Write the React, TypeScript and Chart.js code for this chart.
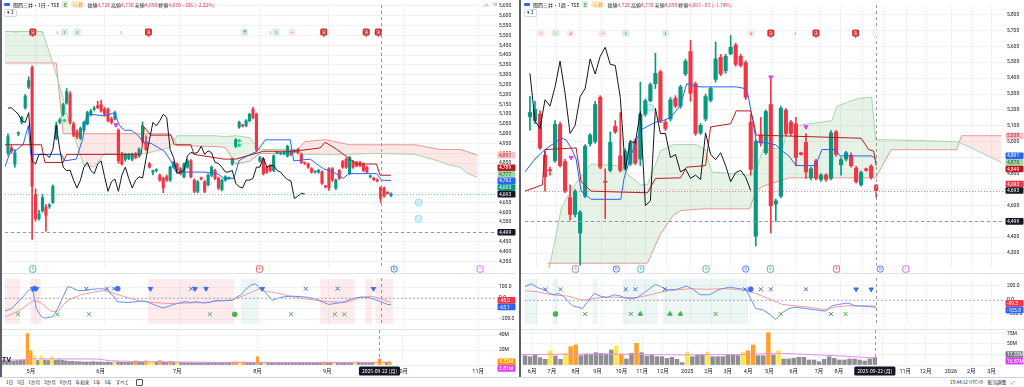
import React, { useEffect, useRef } from 'react';
import { Chart, registerables } from 'chart.js';

Chart.register(...registerables);

const FONT = 'Roboto, "Noto Sans CJK JP", sans-serif';
const JP = '"Noto Sans CJK JP", Roboto, sans-serif';
const TXT = '#131722';
const GRID = '#f1f2f6';
const UP = '#089981';
const DOWN = '#f23645';
const CLOUD_UP = 'rgba(67,160,71,0.13)';
const CLOUD_DN = 'rgba(244,67,54,0.12)';

// ================= LEFT : daily =================
// [open, high, low, close]
const leftCandles = [
  [4903, 5000, 4890, 4985], [4928, 4940, 4900, 4911], [4846, 4920, 4830, 4903], [5000, 5010, 4990, 5002], [5058, 5090, 5050, 5083],
  [5132, 5200, 5125, 5192], [5238, 5290, 5230, 5271], [5336, 5345, 4462, 4732], [4691, 4720, 4555, 4568], [4568, 4610, 4560, 4593],
  [4609, 4690, 4600, 4675], [4626, 4640, 4505, 4585], [4631, 4645, 4620, 4637], [4650, 4740, 4645, 4732], [4977, 5060, 4970, 5042],
  [5060, 5080, 5050, 5070], [5099, 5155, 5090, 5148], [5156, 5230, 5150, 5214], [5202, 5215, 5050, 5058], [5050, 5060, 4985, 4993],
  [5010, 5020, 4975, 4985], [4977, 5035, 4970, 5026], [5020, 5065, 5010, 5058], [5050, 5115, 5045, 5107], [5099, 5125, 5090, 5115],
  [5125, 5140, 5118, 5130], [5143, 5165, 5128, 5132], [5148, 5170, 5110, 5116], [5124, 5135, 5090, 5099], [5124, 5130, 5060, 5066],
  [5075, 5085, 5050, 5058], [5075, 5115, 5070, 5107], [5018, 5025, 4850, 4862], [4895, 4905, 4840, 4846], [4870, 4900, 4860, 4895],
  [4875, 4900, 4868, 4895], [4870, 4902, 4862, 4895], [4895, 4905, 4872, 4879], [4887, 4928, 4880, 4920], [4960, 5060, 4950, 5042],
  [4960, 4990, 4915, 4920], [4846, 4855, 4825, 4830], [4805, 4815, 4790, 4812], [4813, 4822, 4805, 4815], [4789, 4795, 4758, 4764],
  [4773, 4780, 4700, 4724], [4781, 4790, 4758, 4764], [4764, 4836, 4758, 4830], [4830, 4860, 4824, 4854], [4846, 4852, 4806, 4813],
  [4822, 4828, 4790, 4797], [4781, 4852, 4775, 4846], [4830, 4870, 4824, 4862], [4862, 4868, 4775, 4781], [4764, 4770, 4700, 4707],
  [4707, 4762, 4700, 4756], [4773, 4780, 4765, 4770], [4756, 4762, 4700, 4707], [4740, 4795, 4734, 4789], [4789, 4836, 4782, 4830],
  [4813, 4820, 4766, 4773], [4773, 4780, 4716, 4724], [4716, 4770, 4709, 4764], [4764, 4787, 4758, 4781], [4773, 4780, 4768, 4775],
  [4846, 4877, 4840, 4871], [4936, 4975, 4930, 4969], [5034, 5064, 5028, 5058], [5042, 5048, 5034, 5040], [5042, 5072, 5036, 5066],
  [5066, 5105, 5060, 5099], [5124, 5135, 5076, 5083], [5099, 5105, 4912, 4920], [4862, 4885, 4856, 4879], [4871, 4877, 4790, 4797],
  [4830, 4836, 4798, 4805], [4838, 4844, 4806, 4813], [4813, 4893, 4807, 4887], [4903, 4910, 4897, 4905], [4898, 4905, 4892, 4900],
  [4898, 4912, 4892, 4906], [4887, 4942, 4881, 4936], [4911, 4917, 4889, 4895], [4911, 4918, 4905, 4913], [4920, 4926, 4897, 4903],
  [4895, 4901, 4848, 4854], [4850, 4856, 4843, 4849], [4846, 4852, 4824, 4830], [4822, 4828, 4799, 4805], [4805, 4811, 4800, 4806],
  [4805, 4819, 4799, 4813], [4805, 4811, 4742, 4748], [4732, 4738, 4724, 4730], [4822, 4828, 4712, 4724], [4822, 4828, 4758, 4764],
  [4724, 4770, 4716, 4764], [4813, 4819, 4767, 4773], [4859, 4865, 4824, 4830], [4871, 4877, 4824, 4830], [4797, 4885, 4791, 4879],
  [4859, 4865, 4824, 4830], [4854, 4860, 4832, 4838], [4854, 4860, 4832, 4838], [4846, 4852, 4807, 4813], [4830, 4836, 4799, 4805],
  [4781, 4790, 4775, 4783], [4773, 4779, 4762, 4767], [4765, 4772, 4755, 4760], [4728, 4730, 4650, 4670], [4724, 4730, 4677, 4683],
  [4700, 4706, 4692, 4697], [4686, 4700, 4680, 4693],
];
const leftMonths = [[8, '5月'], [28, '6月'], [50, '7月'], [73, '8月'], [93, '9月'], [114.5, '10月'], [136.3, '11月']];
const leftTenkan = [[-0.9, 4830], [1.06, 4928], [2, 4911], [4.4, 4944], [5.9, 5042], [6.6, 4895], [15.5, 4895], [16.4, 4862], [19.8, 4871], [21.7, 4977], [22.7, 5083], [23.7, 5099], [28, 5091], [30.9, 5107], [32.3, 5042], [33.8, 5018], [35.7, 5018], [37.6, 4993], [39.5, 4952], [41.4, 4952], [45.3, 4911], [47.2, 4862], [48.7, 4805], [56.8, 4805], [60.7, 4797], [62.6, 4773], [65.5, 4773], [66.9, 4862], [68.4, 4879], [72.2, 4911], [74.6, 4969], [81.8, 4969], [82.8, 4862], [87.6, 4871], [89.5, 4846], [91.4, 4822], [94.3, 4805], [97.2, 4773], [98.7, 4797], [106.8, 4797], [108.3, 4764], [111, 4762]];
const leftKijun = [[-0.9, 4944], [9.7, 4944], [10.7, 4854], [16, 4854], [17, 4895], [38.6, 4895], [39.5, 5034], [41.4, 4993], [47.2, 4993], [48.2, 4944], [53, 4944], [53.9, 4895], [62.6, 4871], [66, 4871], [74.1, 4911], [82.8, 4911], [90.5, 4928], [91.9, 4957], [95.3, 4920], [99.1, 4871], [101, 4846], [106.8, 4846], [107.8, 4789], [111, 4789]];
const leftCloudX = [-0.9, 10, 13, 14, 16, 17, 22, 25, 28, 40, 47, 48, 49, 60, 63, 66, 70, 73, 83, 86, 92, 99, 106, 118, 125, 128, 131, 133, 136];
const leftSpanA = [5520, 5520, 5360, 5300, 5180, 5100, 4840, 4830, 4900, 4900, 4930, 4960, 4990, 4990, 4985, 4990, 4980, 4920, 4920, 4895, 4895, 4895, 4900, 4895, 4860, 4840, 4830, 4800, 4777];
const leftSpanB = [5360, 5360, 5360, 5360, 5000, 5000, 5000, 5000, 5000, 5000, 5000, 4970, 4940, 4935, 4930, 4846, 4860, 4900, 4900, 4960, 4970, 4944, 4944, 4944, 4920, 4920, 4920, 4910, 4891];
const leftPinkTri = [[31.3, 5045]];
const leftGreenDots = [[16.4, 5067], [67, 4964], [67, 4941]];
const leftCyanRings = [[119, 4650], [119, 4567]];
const leftVolume = [
  6.5, 5.5, 6, 5, 6, 6.5, 7, 42, 19, 12.4,
  6, 12, 6.7, 6, 11, 6.5, 7, 6.5, 5.5, 5,
  5, 4.5, 4.5, 4, 4, 4, 4.5, 4, 4, 3.5,
  4, 3.5, 5.6, 4, 3.5, 3.5, 3.5, 3.5, 5.5, 4,
  3.5, 5.5, 4, 4, 3.5, 6, 4, 3.5, 5, 3.5,
  4, 3.5, 3, 3, 3.2, 3, 3, 2.8, 3, 3,
  3.2, 3, 3, 2.8, 3, 3, 4, 4, 3.5, 4,
  3.5, 3.5, 3.5, 11, 3.5, 4, 3.2, 3, 3, 3.2,
  3, 3, 3, 3.2, 3, 3, 3, 3, 3, 3,
  3, 3, 4, 3, 3, 3.8, 3, 3, 3, 3,
  3, 3.5, 3.8, 3, 3, 3, 3.2, 3.5, 8, 4.5,
  3.5, 4.33,
];
const leftVolKind = 'gggggggooy' + 'gyggyggggg' + 'gggggggggg' + 'ggygggggog' + 'goyygoggog' + 'yggggggggg' + 'ggggggooyo' + 'gggogygggg' + 'gggggggggg' + 'ggoggygggg' + 'gygggggyoy' + 'go';
const leftVolMA = [[-0.9, 6.5], [7, 6.8], [9, 8.2], [27, 8], [31, 5.5], [40, 4.5], [60, 3.6], [90, 3.4], [111, 3.81]];
const leftCci = [[-0.9, -126], [1.05, -100], [3.4, -23], [6.3, 79], [7.3, 54], [8.2, -100], [9.7, -177], [10.6, -190], [13, -177], [14.4, -100], [15.9, 3], [17.3, 105], [18.7, 92], [20.2, 67], [22.1, 67], [24, 79], [26.9, 85], [28.8, 79], [29.7, 41], [30.7, 15], [31.6, -36], [34.5, -44], [37.4, -36], [39.3, -28], [41.2, -49], [43.1, -74], [45, -95], [46.9, -74], [48.9, -54], [51.3, -36], [52.7, -44], [54.6, -36], [56.5, -49], [58.4, -44], [60.3, -23], [62.2, -28], [65.1, -23], [66.1, 3], [67.5, 28], [68.9, 79], [70.4, 118], [71.8, 131], [72.8, 92], [73.7, 79], [76.6, -23], [79.5, 8], [82.3, 15], [86.1, 8], [89, -10], [92.9, -62], [95.7, -49], [97.6, -36], [99.5, -10], [102.4, 8], [104.3, 3], [106.2, -15], [108.1, -36], [110, -62], [111, -65.1]];
const leftSignal = [[-0.9, -177], [3, -126], [6.3, -49], [7.7, -23], [9.7, -49], [12.5, -126], [14.4, -126], [17.3, -23], [21.1, 28], [25, 54], [27.8, 67], [30.7, 41], [34.5, 3], [38.4, -31], [42.2, -44], [47, -54], [56.5, -44], [65.1, -18], [68.9, 28], [72.8, 85], [73.7, 67], [78.5, 41], [83.3, 3], [88.1, -18], [92.9, -36], [97.6, -44], [102.4, 3], [105.3, 15], [108.1, -10], [111, -45]];
const LEFT_OSC_TOP = 85;
const LEFT_OSC_BOT = -154;
const leftOscBlueX = [22.7, 28.7, 30.7, 53.1, 86.3, 95.5];
const leftOscBlueTri = [7.2, 8.3, 41.3, 54.2, 57.4, 73.7, 105.9];
const leftOscBlueDot = [7.7, 31.8];
const leftOscGreenX = [2.9, 14.3, 23.5, 58.5, 82, 94.7, 97.5];
const leftOscGreenDot = [65.7];
const leftOscBands = [[-1, 3, 'p'], [7, 9, 'p'], [41, 65, 'p'], [68, 72, 'g'], [91, 100, 'p'], [104, 105, 'p'], [107, 111, 'p']];
const leftTopMarks = [[2.2, 't', '—'], [7.2, 'r', '決'], [10, 't', '—'], [14.3, 't', '3'], [16.4, 'g', '1'], [20.1, 'g', '3'], [32.7, 't', '3'], [40.7, 'r', '決'], [68.6, 'g', '予'], [76, 't', '3'], [77.7, 'g', '1'], [82.3, 'p', '—'], [91.5, 'r', '決'], [103.8, 'r', '決'], [106.2, 't', '—'], [107.3, 'r', '決']];
const leftIcons = [[7.2, 's', 'S'], [72.9, 'e', 'E'], [111.9, 'd', 'D'], [136.8, 'i', 'I']];
const leftPriceBadges = [
  { v: 4891, t: '4,891', bg: '#f9c0c4', fg: '#c62828' },
  { v: 4789, t: '4,789', bg: '#b71c1c', fg: '#fff' },
  { v: 4777, t: '4,777', bg: '#a5d6a7', fg: '#1b5e20' },
  { v: 4762, t: '4,762', bg: '#2962ff', fg: '#fff' },
  { v: 4693, t: '4,693', bg: UP, fg: '#fff' },
  { v: 4693, t: '4,693', bg: '#131722', fg: '#fff', pin: true },
  { v: 4499, t: '4,499', bg: '#131722', fg: '#fff', pin: true },
];
const leftOscBadges = [{ v: -45, t: '-45.0', bg: '#f23645', fg: '#fff' }, { v: -65.1, t: '-65.1', bg: '#2962ff', fg: '#fff' }];
const leftVolBadges = [{ v: 4.33, t: '4.33M', bg: '#ff9800', fg: '#fff', pin: true }, { v: 3.81, t: '3.81M', bg: '#e040fb', fg: '#fff' }];

// ================= RIGHT : weekly =================
const rightCandles = [
  [5157, 5285, 5073, 5184], [5133, 5254, 5113, 5204], [5173, 5194, 4951, 4961], [4915, 4941, 4689, 4780], [4822, 4840, 4790, 4818],
  [4881, 5133, 4870, 5109], [5109, 5123, 4840, 4850], [4875, 4890, 4679, 4689], [4648, 4729, 4507, 4543], [4543, 4699, 4527, 4689],
  [4426, 4567, 4224, 4557], [4658, 4982, 4648, 4972], [4988, 5052, 4972, 5042], [5002, 5254, 4990, 5234], [5279, 5290, 4830, 4840],
  [4750, 4830, 4517, 4745], [4820, 5062, 4810, 4996], [5097, 5133, 5052, 5062], [4911, 5184, 4810, 4820], [4830, 4955, 4820, 4941],
  [4860, 5010, 4850, 4992], [5008, 5020, 4855, 4866], [4891, 5375, 4850, 5173], [5173, 5270, 5160, 5258], [5258, 5370, 5250, 5359],
  [5365, 5557, 5335, 5430], [5440, 5450, 5120, 5133], [5123, 5140, 5070, 5083], [5143, 5280, 5130, 5264], [5274, 5290, 5215, 5224],
  [5224, 5355, 5210, 5345], [5426, 5520, 5415, 5507], [5567, 5638, 5254, 5305], [5365, 5375, 5040, 5052], [5056, 5115, 5045, 5103],
  [5143, 5300, 5130, 5284], [5260, 5345, 5250, 5335], [5392, 5628, 5375, 5521], [5531, 5550, 5415, 5426], [5446, 5550, 5430, 5537],
  [5553, 5668, 5547, 5594], [5608, 5620, 5475, 5487], [5537, 5550, 5470, 5480], [5497, 5510, 5265, 5279], [5123, 5173, 4790, 4826],
  [4406, 5012, 4345, 5002], [5042, 5153, 4972, 4992], [4931, 5200, 4920, 5190], [5234, 5396, 4426, 4598], [4608, 4640, 4500, 4628],
  [4658, 5224, 4648, 5210], [5198, 5210, 5040, 5052], [5123, 5135, 5040, 5052], [5113, 5153, 4850, 4901], [4930, 4935, 4915, 4920],
  [4996, 5052, 4770, 4810], [4773, 4840, 4760, 4830], [4880, 4890, 4760, 4770], [4763, 4800, 4750, 4790], [4790, 4800, 4750, 4763],
  [4770, 5070, 4760, 5056], [5062, 5072, 4910, 4921], [4855, 4900, 4790, 4887], [4891, 4940, 4880, 4931], [4915, 4930, 4840, 4850],
  [4834, 4845, 4740, 4749], [4729, 4815, 4720, 4806], [4830, 4835, 4815, 4820], [4846, 4855, 4765, 4776], [4728, 4730, 4650, 4693],
];
const rightMonths = [[1.4, '6月'], [5.3, '7月'], [10, '8月'], [14.3, '9月'], [19, '10月'], [23.1, '11月'], [27.2, '12月'], [32, '2025'], [36.2, '2月'], [40, '3月'], [44, '4月'], [48.2, '5月'], [53, '6月'], [58, '7月'], [61.9, '8月'], [66.2, '9月'], [70.5, '10月'], [75, '11月'], [79, '12月'], [84, '2026'], [88, '2月'], [92, '3月']];
const rightTenkan = [[-1, 4810], [1, 4891], [3, 4951], [6.25, 5022], [7.2, 5012], [8.2, 4961], [9.2, 4891], [10.2, 4689], [12.2, 4638], [18.1, 4638], [18.75, 4769], [20.1, 4911], [22, 5073], [25, 5123], [26.6, 5133], [28, 5153], [29.9, 5224], [31.25, 5365], [33.9, 5345], [41.1, 5345], [42.8, 5335], [43.4, 5305], [44.4, 5133], [45.1, 5002], [49, 4981], [50.3, 4941], [51.6, 4911], [53, 4850], [56.9, 4850], [58.2, 4951], [60.9, 4951], [61.8, 4911], [68.1, 4911], [69, 4891]];
const rightKijun = [[-1, 4689], [2.5, 4729], [3, 4951], [9.2, 4961], [10.2, 4749], [12.2, 4689], [23.4, 4679], [25, 4769], [30, 4773], [31.2, 4840], [35, 4850], [36, 5093], [40, 5113], [41.1, 5194], [44, 5194], [44.5, 5133], [45.1, 5042], [66, 5022], [67.5, 4951], [68.5, 4941], [69, 4849]];
const rightCloudX = [3.5, 6.3, 8.9, 12.2, 17.4, 22, 23.4, 26, 28.6, 30, 33.2, 34.9, 36.2, 43.8, 45, 46.4, 50.3, 51.6, 53, 60.2, 61.2, 65.5, 68.1, 68.9, 72, 85, 86, 90, 94];
const rightSpanA = [4150, 4588, 4729, 4860, 4850, 4729, 4729, 4941, 4982, 4982, 4982, 4951, 4810, 4790, 4810, 4951, 4961, 5093, 5100, 5133, 5224, 5274, 5279, 5012, 5012, 5000, 4990, 4930, 4870];
const rightSpanB = [4236, 4236, 4236, 4236, 4236, 4236, 4236, 4420, 4540, 4567, 4575, 4578, 4578, 4578, 4689, 4720, 4760, 4773, 4773, 4773, 4773, 4773, 4773, 4773, 4950, 4950, 5038, 5038, 5038];
const rightPinkTri = [[8.2, 4901], [48, 5406], [55, 5093]];
const rightCyanRings = [[24, 5214]];
const rightVolume = [
  22.2, 19.8, 23.8, 17.4, 13.5, 33.3, 21.4, 13.5, 27.8, 43.6,
  47.6, 22.2, 26.2, 25.4, 29.3, 27.8, 26.2, 35.7, 45.2, 26.2,
  14.3, 27.8, 51.5, 29.3, 21.4, 23.8, 19.8, 19.8, 15.9, 18.2,
  13.5, 5.6, 30.9, 19.8, 23.8, 25.4, 30.9, 19.8, 19.8, 19.8,
  23.8, 23.8, 22.2, 30.1, 34.1, 47.6, 22.2, 22.2, 76.9, 23.8,
  34.1, 14.3, 14.3, 15.9, 18.2, 18.2, 11.9, 11.9, 7.9, 13.5,
  19.8, 15.9, 11.9, 11.9, 14.3, 14.3, 11.9, 9.5, 14.3, 17.35,
];
const rightVolKind = 'gggggyggyo' + 'ogggggggyo' + 'ggoggggggg' + 'ggygggyggg' + 'gggyooggog' + 'yggggggggg' + 'gggggggggg';
const rightVolMA = [[-1, 25], [15, 26], [30, 24], [43, 25], [50, 28], [56, 25], [63, 21], [69, 16.87]];
const rightCci = [[-1, 190], [0.3, 229], [1.6, 171], [3, 143], [3.9, 92], [4.9, 73], [5.6, 92], [6.6, 53], [7.6, -26], [8.5, -85], [9.5, -104], [10.5, -124], [11.5, -26], [12.8, 92], [14.1, 53], [15.4, 33], [16.8, 73], [18.1, 53], [18.7, 33], [20.1, 14], [21.4, 33], [23.3, 131], [25, 222], [26, 190], [27.3, 143], [29.3, 151], [31.2, 198], [32.5, 151], [33.9, 73], [35.8, 73], [37.8, 151], [39.8, 182], [41.7, 159], [43.1, 151], [44, 14], [45, -124], [46.4, -143], [47.7, -202], [49, -280], [50.3, -182], [51.6, -124], [52.9, -104], [54.9, -124], [56.9, -143], [58.8, -163], [60.2, -85], [61.5, -65], [63.4, -45], [64.8, -85], [66.7, -92], [69, -105.8]];
const rightSignal = [[-1, 131], [1.6, 112], [4.3, 73], [7.6, 53], [9.5, 14], [10.8, -6], [12.2, 14], [14.1, 33], [16.1, 41], [18.7, 33], [21.4, 33], [24, 73], [26.6, 120], [29.3, 143], [31.9, 159], [35.2, 151], [38.5, 159], [41.1, 151], [43.1, 131], [45, 92], [47, 33], [49, -26], [50.3, -65], [52.9, -85], [55.6, -104], [58.8, -143], [60.8, -104], [63.4, -85], [66.7, -85], [69, -89.3]];
const RIGHT_OSC_TOP = 151;
const RIGHT_OSC_BOT = -202;
const rightOscBlueX = [3.1, 6.1, 19.1, 21, 26.9, 42.9, 46, 48, 55];
const rightOscBlueDot = [44];
const rightOscBlueTri = [65, 68];
const rightOscGreenDot = [5.1];
const rightOscGreenX = [11, 20.1, 37, 50, 60, 62.9];
const rightOscGreenTri = [22, 27.9, 30];
const rightOscBands = [[-1, 1, 'g'], [5, 5, 'g'], [13, 13, 'g'], [19, 25, 'g'], [27, 43, 'g']];
const rightTopMarks = [[2.2, 'p', '—'], [5.1, 'g', '—'], [8.1, 'p', '3'], [13.8, 't', '+'], [14.5, 'p', '—'], [19.1, 'g', '1'], [27, 'g', '1'], [44, 'p', '3'], [48, 'r', '決'], [52.9, 't', '2'], [57, 'r', '決'], [64.9, 'r', '決'], [68.8, 'gf', '']];
const rightIcons = [[9.1, 'n', 'S'], [17.2, 'd', 'D'], [22.1, 's', 'S'], [35.1, 's', 'S'], [43, 'd', 'D'], [47.9, 's', 'S'], [61.1, 'e', 'E'], [69.8, 'd', 'D'], [74.9, 'i', 'I']];
const rightPriceBadges = [
  { v: 5038, t: '5,038', bg: '#f9c0c4', fg: '#c62828' },
  { v: 4891, t: '4,891', bg: '#2962ff', fg: '#fff' },
  { v: 4870, t: '4,870', bg: '#a5d6a7', fg: '#1b5e20' },
  { v: 4849, t: '4,849', bg: '#b71c1c', fg: '#fff' },
  { v: 4693, t: '4,693', bg: DOWN, fg: '#fff' },
  { v: 4693, t: '4,693', bg: '#131722', fg: '#fff', pin: true },
  { v: 4499, t: '4,499', bg: '#131722', fg: '#fff', pin: true },
];
const rightOscBadges = [{ v: -89.3, t: '-89.3', bg: '#f23645', fg: '#fff' }, { v: -105.8, t: '-105.8', bg: '#2962ff', fg: '#fff' }];
const rightVolBadges = [{ v: 17.35, t: '17.35M', bg: '#787b86', fg: '#fff' }, { v: 16.87, t: '16.87M', bg: '#e040fb', fg: '#fff' }];

// ================= helpers =================
const BAND = { p: 'rgba(242,54,69,0.10)', g: 'rgba(8,153,129,0.08)' };
const MARK = {
  r: { bg: '#d32f2f', fg: '#fff' },
  g: { bg: '#d8f0da', fg: '#2e7d32' },
  p: { bg: '#fde4e6', fg: '#c62828' },
  t: { bg: '', fg: '#787b86' },
  gf: { bg: '#eef8ef', fg: '#a5d6a7' },
};
const ICON = { s: '#26a69a', e: '#f23645', d: '#2962ff', i: '#e040fb', n: '#787b86' };
const VOLC = { g: '#8e8e93', o: '#ffa028', y: '#fde84a' };

const pts = (a: any[]) => a.map((p: any) => ({ x: p[0], y: p[1] }));
const zip = (xs: number[], ys: number[]) => xs.map((x, i) => [x, ys[i]]);
const row = (xs: number[], v: number) => xs.map((x) => [x, v]);

function line(data: any[], color: string, order: number, extra: any = {}) {
  return { type: 'line', data: pts(data), borderColor: color, borderWidth: 1, pointRadius: 0, tension: 0, fill: false, order, ...extra };
}
function marks(data: any[], style: string, color: string, r: number, rot = 0, bg?: string) {
  return {
    type: 'line', data: pts(data), showLine: false, pointStyle: style, pointRadius: r, pointRotation: rot,
    pointBorderColor: color, pointBackgroundColor: bg || color, pointBorderWidth: 1, order: 0,
  };
}
function candleSets(c: number[][], w: number) {
  const cols = c.map((d) => (d[3] >= d[0] ? UP : DOWN));
  return [
    { type: 'bar', data: c.map((d, i) => ({ x: i, y: [d[2], d[1]] })), backgroundColor: cols, barThickness: 1, grouped: false, order: 4 },
    { type: 'bar', data: c.map((d, i) => ({ x: i, y: [d[0], d[3]] })), backgroundColor: cols, barThickness: w, grouped: false, minBarLength: 1, order: 3 },
  ];
}

const xScale = (min: number, max: number, months: any[], show: boolean) => ({
  type: 'linear', min, max, offset: false,
  afterBuildTicks: (s: any) => { s.ticks = months.map((m: any) => ({ value: m[0] })); },
  afterFit: (s: any) => { s.height = show ? 12 : 0; s.paddingLeft = 0; s.paddingRight = 0; },
  grid: { color: GRID, drawTicks: false, offset: false },
  border: { display: false },
  ticks: {
    display: show, autoSkip: false, maxRotation: 0, padding: 3, color: TXT, font: { size: 5.5, family: FONT },
    callback: (v: any) => { const m = months.find((q: any) => q[0] === v); return m ? m[1] : ''; },
  },
});
const yScale = (min: number, max: number, step: number, fmt: any) => ({
  type: 'linear', position: 'right', min, max,
  afterFit: (s: any) => { s.width = 19; s.paddingTop = 0; s.paddingBottom = 0; },
  grid: { color: GRID, drawTicks: false },
  border: { display: false },
  ticks: { stepSize: step, includeBounds: false, autoSkip: false, padding: 2, crossAlign: 'near', color: TXT, font: { size: 5, family: FONT }, callback: fmt },
});
const baseOptions = (xs: any, ys: any) => ({
  responsive: false, maintainAspectRatio: false, animation: false, devicePixelRatio: 1, events: [],
  layout: { padding: 0 },
  plugins: { legend: { display: false }, tooltip: { enabled: false } },
  scales: { x: xs, y: ys },
});
const fmtPrice = (v: number) => v.toLocaleString('en-US');
const fmtOsc = (v: number) => v.toFixed(1).replace('-', '−');
const fmtVol = (v: number) => (v === 0 ? '' : v + 'M');

function overlay(o: any) {
  return {
    id: 'ov',
    beforeDatasetsDraw(chart: any) {
      const { ctx, chartArea: a, scales } = chart;
      const x = scales.x;
      ctx.save();
      (o.bands || []).forEach((b: any) => {
        const x0 = Math.max(a.left, x.getPixelForValue(b[0] - 0.5));
        const x1 = Math.min(a.right, x.getPixelForValue(b[1] + 0.5));
        ctx.fillStyle = (BAND as any)[b[2]];
        ctx.fillRect(x0, a.top + 1, x1 - x0, a.bottom - a.top - 2);
      });
      ctx.restore();
    },
    afterDatasetsDraw(chart: any) {
      const { ctx, chartArea: a, scales } = chart;
      const x = scales.x, y = scales.y;
      ctx.save();
      ctx.lineWidth = 1;
      (o.hlines || []).forEach((l: any) => {
        const py = Math.round(y.getPixelForValue(l.v)) + 0.5;
        ctx.strokeStyle = l.color; ctx.setLineDash(l.dash);
        ctx.beginPath(); ctx.moveTo(a.left, py); ctx.lineTo(a.right, py); ctx.stroke();
      });
      if (o.vline != null) {
        const px = Math.round(x.getPixelForValue(o.vline)) + 0.5;
        ctx.strokeStyle = '#9598a1'; ctx.setLineDash([3, 3]);
        ctx.beginPath(); ctx.moveTo(px, a.top); ctx.lineTo(px, a.bottom); ctx.stroke();
      }
      ctx.setLineDash([]);
      (o.topMarks || []).forEach((m: any) => {
        const px = x.getPixelForValue(m[0]), py = o.topY;
        const st = (MARK as any)[m[1]];
        if (st.bg) {
          ctx.fillStyle = st.bg;
          ctx.beginPath(); ctx.roundRect(px - 3.5, py - 3.5, 7, 7, 1.5); ctx.fill();
          if (m[1] === 'r') { ctx.beginPath(); ctx.moveTo(px - 1.5, py + 3.4); ctx.lineTo(px + 1.5, py + 3.4); ctx.lineTo(px, py + 5); ctx.fill(); }
        }
        ctx.fillStyle = st.fg; ctx.font = `4px ${JP}`; ctx.textAlign = 'center'; ctx.textBaseline = 'middle';
        ctx.fillText(m[2], px, py + 0.3);
      });
      (o.icons || []).forEach((m: any) => {
        const px = x.getPixelForValue(m[0]), py = o.iconY;
        const c = (ICON as any)[m[1]];
        ctx.strokeStyle = c; ctx.fillStyle = '#fff'; ctx.lineWidth = 0.8;
        ctx.beginPath();
        if (m[1] === 'd') ctx.arc(px, py, 3.2, 0, Math.PI * 2); else ctx.roundRect(px - 3, py - 3.2, 6, 6.4, 1.6);
        ctx.fill(); ctx.stroke();
        ctx.fillStyle = c; ctx.font = `4px ${FONT}`; ctx.textAlign = 'center'; ctx.textBaseline = 'middle';
        ctx.fillText(m[2], px, py + 0.3);
      });
      ctx.restore();
    },
    afterDraw(chart: any) {
      const { ctx, chartArea: a, scales } = chart;
      const x = scales.x, y = scales.y;
      ctx.save();
      if (o.badges) {
        const H = 6.6;
        const list = o.badges.map((b: any) => ({ ...b, py: y.getPixelForValue(b.v) }));
        list.sort((p: any, q: any) => p.py - q.py);
        for (let it = 0; it < 40; it++) {
          for (let k = 1; k < list.length; k++) {
            const A = list[k - 1], B = list[k];
            const d = H - (B.py - A.py);
            if (d > 0.01) {
              if (A.pin && !B.pin) B.py += d;
              else if (B.pin && !A.pin) A.py -= d;
              else { A.py -= d / 2; B.py += d / 2; }
            }
          }
        }
        list.forEach((b: any) => {
          const bx = a.right + 0.5, bw = chart.width - a.right - 1;
          ctx.fillStyle = b.bg;
          ctx.beginPath(); ctx.roundRect(bx, b.py - H / 2, bw, H, 1); ctx.fill();
          ctx.fillStyle = b.fg; ctx.font = `5px ${FONT}`; ctx.textAlign = 'left'; ctx.textBaseline = 'middle';
          ctx.fillText(b.t, bx + 1.5, b.py + 0.3);
        });
      }
      if (o.xBadge) {
        const px = x.getPixelForValue(o.xBadge.i);
        ctx.font = `5px ${JP}`;
        const tw = ctx.measureText(o.xBadge.t).width + 6;
        ctx.fillStyle = '#131722';
        ctx.beginPath(); ctx.roundRect(px - tw / 2, a.bottom + 1.5, tw, 9, 1.5); ctx.fill();
        ctx.fillStyle = '#fff'; ctx.textAlign = 'center'; ctx.textBaseline = 'middle';
        ctx.fillText(o.xBadge.t, px, a.bottom + 6.2);
      }
      if (o.logo) {
        ctx.fillStyle = '#131722'; ctx.font = `bold 7px ${FONT}`; ctx.textAlign = 'left'; ctx.textBaseline = 'alphabetic';
        ctx.fillText('TV', a.left + 2, a.bottom - 3);
      }
      ctx.restore();
    },
  };
}

// ================= chart configs =================
const LX = [-0.861, 141.71];
const RX = [-0.986, 94.67];

function priceCfg(side: 'L' | 'R') {
  const L = side === 'L';
  const c = L ? leftCandles : rightCandles;
  const chikou = c.slice(25).map((d, i) => [i, d[3]]);
  const cloudX = L ? leftCloudX : rightCloudX;
  return {
    type: 'line',
    data: {
      datasets: [
        line(zip(cloudX, L ? leftSpanB : rightSpanB), '#ef9a9a', 7),
        line(zip(cloudX, L ? leftSpanA : rightSpanA), '#a5d6a7', 6, { fill: { target: 0, above: CLOUD_UP, below: CLOUD_DN } }),
        ...candleSets(c, L ? 2.5 : 3.5),
        line(chikou, '#131722', 2),
        line(L ? leftKijun : rightKijun, '#b71c1c', 2),
        line(L ? leftTenkan : rightTenkan, '#2962ff', 2),
        marks(L ? leftPinkTri : rightPinkTri, 'triangle', '#e040fb', 2.4, 180),
        marks(L ? leftGreenDots : [], 'circle', '#00e676', 1.3),
        marks(L ? leftCyanRings : rightCyanRings, 'circle', 'rgba(0,188,212,0.35)', 3.5, 0, 'rgba(0,188,212,0.18)'),
      ],
    },
    options: baseOptions(
      xScale(L ? LX[0] : RX[0], L ? LX[1] : RX[1], L ? leftMonths : rightMonths, false),
      L ? yScale(4317, 5655, 50, fmtPrice) : yScale(4206, 5860, 100, fmtPrice),
    ),
    plugins: [overlay({
      hlines: [
        { v: 4693, color: L ? 'rgba(8,153,129,0.55)' : 'rgba(242,54,69,0.6)', dash: [1, 2] },
        { v: 4499, color: '#9598a1', dash: [3, 3] },
      ],
      vline: L ? 108 : 69,
      badges: L ? leftPriceBadges : rightPriceBadges,
      topY: L ? 32 : 33, topMarks: L ? leftTopMarks : rightTopMarks,
      iconY: 269, icons: L ? leftIcons : rightIcons,
    })],
  };
}

function oscCfg(side: 'L' | 'R') {
  const L = side === 'L';
  const top = L ? LEFT_OSC_TOP : RIGHT_OSC_TOP;
  const bot = L ? LEFT_OSC_BOT : RIGHT_OSC_BOT;
  const blue = '#6a90f6', red = '#f49a9a', bm = '#3d6df2', gm = '#4caf50';
  return {
    type: 'line',
    data: {
      datasets: [
        line(L ? leftSignal : rightSignal, red, 3),
        line(L ? leftCci : rightCci, blue, 2),
        marks(row(L ? leftOscBlueX : rightOscBlueX, top), 'crossRot', bm, 2.8),
        marks(row(L ? leftOscBlueTri : rightOscBlueTri, top), 'triangle', bm, 2.6, 180),
        marks(row(L ? leftOscBlueDot : rightOscBlueDot, top), 'circle', bm, 2.4),
        marks(row(L ? leftOscGreenX : rightOscGreenX, bot), 'crossRot', gm, 2.8),
        marks(row(L ? leftOscGreenDot : rightOscGreenDot, bot), 'circle', gm, 2.4),
        marks(row(L ? [] : rightOscGreenTri, bot), 'triangle', gm, 2.6),
      ],
    },
    options: baseOptions(
      xScale(L ? LX[0] : RX[0], L ? LX[1] : RX[1], L ? leftMonths : rightMonths, false),
      L ? yScale(-253.8, 184.6, 100, fmtOsc) : yScale(-358.8, 311.8, 200, fmtOsc),
    ),
    plugins: [overlay({
      bands: L ? leftOscBands : rightOscBands,
      hlines: [{ v: 0, color: '#b2b5be', dash: [2, 2] }],
      vline: L ? 108 : 69,
      badges: L ? leftOscBadges : rightOscBadges,
    })],
  };
}

function volCfg(side: 'L' | 'R') {
  const L = side === 'L';
  const v = L ? leftVolume : rightVolume;
  const k = L ? leftVolKind : rightVolKind;
  return {
    type: 'line',
    data: {
      datasets: [
        { type: 'bar', data: v.map((val, i) => ({ x: i, y: val })), backgroundColor: v.map((_, i) => (VOLC as any)[k[i]]), barThickness: L ? 2.6 : 3.8, grouped: false, order: 3 },
        line(L ? leftVolMA : rightVolMA, '#e58cf5', 1),
      ],
    },
    options: baseOptions(
      xScale(L ? LX[0] : RX[0], L ? LX[1] : RX[1], L ? leftMonths : rightMonths, true),
      L ? yScale(0, 46.7, 20, fmtVol) : yScale(0, 83.3, 25, fmtVol),
    ),
    plugins: [overlay({
      vline: L ? 108 : 69,
      badges: L ? leftVolBadges : rightVolBadges,
      xBadge: { i: L ? 108 : 69, t: '2025-09-22 (月)' },
      logo: L,
    })],
  };
}

function ChartBox({ x, y, w, h, build }: any) {
  const ref = useRef<HTMLCanvasElement | null>(null);
  useEffect(() => {
    if (!ref.current) return;
    const chart = new Chart(ref.current, build() as any);
    return () => chart.destroy();
  }, []);
  return <canvas ref={ref} width={w} height={h} style={{ position: 'absolute', left: x, top: y, width: w, height: h, display: 'block' }} />;
}

function Header({ x, name, close, chg }: any) {
  const val = { color: DOWN };
  return (
    <>
      <div style={{ position: 'absolute', left: x, top: 1, height: 7, display: 'flex', alignItems: 'center', gap: 3, fontSize: 5, fontFamily: JP, color: TXT, whiteSpace: 'nowrap', lineHeight: '7px' }}>
        <span style={{ display: 'inline-block', width: 6, height: 3, background: '#2962ff', borderRadius: 1 }} />
        <span>{name}</span>
        <span style={{ background: '#d8f0da', color: '#2e7d32', padding: '0 1.5px', borderRadius: 1 }}>E</span>
        <span style={{ background: '#ffe7c2', color: '#ef6c00', padding: '0 2px', borderRadius: 3 }}>— D</span>
        <span>始値<span style={val}>4,728</span> 高値<span style={val}>4,730</span> 安値<span style={val}>4,650</span> 終値<span style={val}>{close}</span> <span style={val}>{chg}</span></span>
      </div>
      <div style={{ position: 'absolute', left: x, top: 9, height: 6, padding: '0 2px', border: '0.5px solid #d1d4dc', borderRadius: 1.5, fontSize: 4.5, lineHeight: '6px', fontFamily: FONT, color: TXT, whiteSpace: 'nowrap' }}>▾ 3</div>
    </>
  );
}

export default function App() {
  const tb = ['1日', '5日', '1か月', '3か月', '6か月', '年初来', '1年', '5年', 'すべて'];
  return (
    <div style={{ position: 'fixed', left: 0, top: 0, width: 1024, height: 387, background: '#fff', overflow: 'hidden', fontFamily: FONT }}>
      <ChartBox x={0} y={0} w={516} h={273} build={() => priceCfg('L')} />
      <ChartBox x={0} y={273} w={516} h={57} build={() => oscCfg('L')} />
      <ChartBox x={0} y={330} w={516} h={47} build={() => volCfg('L')} />
      <ChartBox x={520} y={0} w={504} h={273} build={() => priceCfg('R')} />
      <ChartBox x={520} y={273} w={504} h={57} build={() => oscCfg('R')} />
      <ChartBox x={520} y={330} w={504} h={47} build={() => volCfg('R')} />

      {/* pane separators */}
      <div style={{ position: 'absolute', left: 0, top: 273, width: 516, height: 1, background: '#e0e3eb' }} />
      <div style={{ position: 'absolute', left: 0, top: 329, width: 516, height: 1, background: '#e0e3eb' }} />
      <div style={{ position: 'absolute', left: 520, top: 273, width: 504, height: 1, background: '#e0e3eb' }} />
      <div style={{ position: 'absolute', left: 520, top: 329, width: 504, height: 1, background: '#e0e3eb' }} />
      <div style={{ position: 'absolute', left: 0, top: 377, width: 1024, height: 1, background: '#d1d4dc' }} />
      <div style={{ position: 'absolute', left: 0, top: 0, width: 1.5, height: 377, background: '#5d606b' }} />
      <div style={{ position: 'absolute', left: 516, top: 0, width: 4, height: 377, background: '#fff' }} />
      <div style={{ position: 'absolute', left: 519, top: 0, width: 1.5, height: 377, background: '#5d606b' }} />

      <Header x={4} name="関西三井・1日・TSE" close="4,670" chg="−106 (−2.22%)" />
      <Header x={524} name="関西三井・1週・TSE" close="4,693" chg="−83 (−1.74%)" />
      <div style={{ position: 'absolute', left: 484, top: 1, fontSize: 5, color: '#787b86', display: 'flex', gap: 4, whiteSpace: 'nowrap' }}><span>∧</span><span>⟲</span></div>

      {/* bottom toolbar */}
      <div style={{ position: 'absolute', left: 6, top: 379, height: 7, display: 'flex', alignItems: 'center', gap: 4, fontSize: 4.6, fontFamily: JP, color: TXT, lineHeight: '7px', whiteSpace: 'nowrap' }}>
        {tb.map((t) => <span key={t}>{t}</span>)}
        <span style={{ display: 'inline-block', width: 5, height: 5, border: '0.6px solid #50535e', borderRadius: 1, marginLeft: 3 }} />
      </div>
      <div style={{ position: 'absolute', left: 950, top: 379, height: 7, display: 'flex', alignItems: 'center', gap: 5, fontSize: 4.6, fontFamily: JP, color: TXT, lineHeight: '7px', whiteSpace: 'nowrap' }}>
        <span>15:44:12 UTC+9</span>
        <span>配当調整</span>
        <span>⤢</span>
      </div>
    </div>
  );
}
